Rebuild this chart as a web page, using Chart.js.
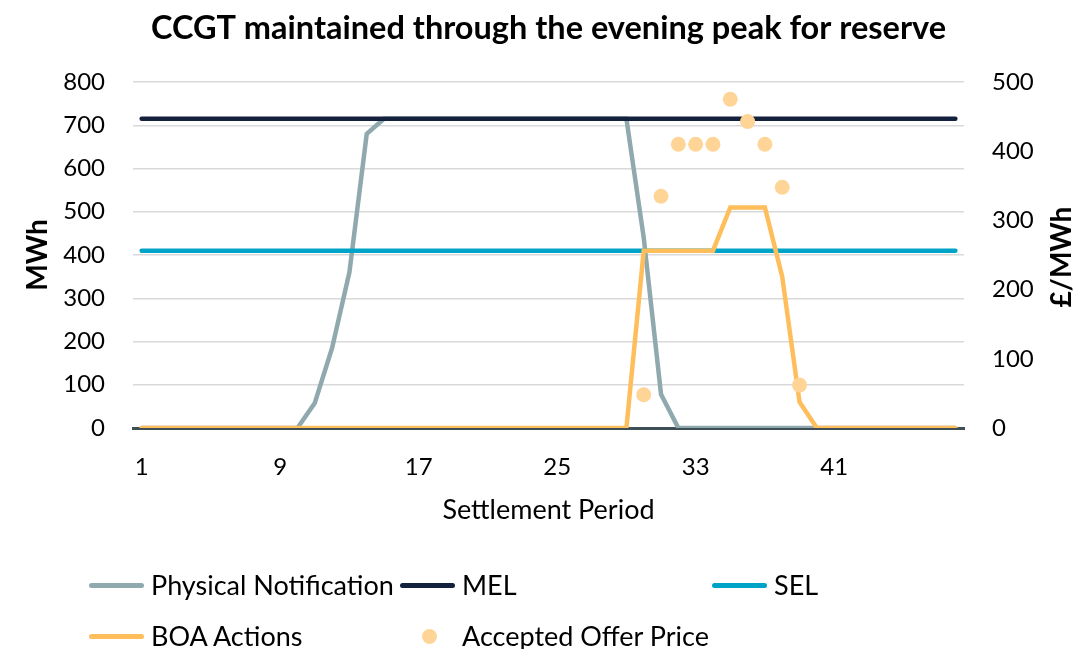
<!DOCTYPE html>
<html>
<head>
<meta charset="utf-8">
<script src="https://cdn.jsdelivr.net/npm/chart.js@4/dist/chart.umd.min.js"></script>
<style>
html,body{margin:0;padding:0;background:#fff;}
#wrap{position:relative;width:1076px;height:649px;overflow:hidden;}
canvas{display:block;}
.lg-item{position:absolute;height:30px;font-family:Lato,"Open Sans",sans-serif;font-size:27px;color:#000;white-space:nowrap;}
.lg-line{position:absolute;height:5px;border-radius:3px;}
.lg-dot{position:absolute;width:15px;height:15px;border-radius:50%;}
.lg-text{position:absolute;line-height:30px;top:0;}
</style>
</head>
<body>
<div id="wrap">
<canvas id="c" width="1076" height="649"></canvas>
<div id="legend"></div>
</div>
<script>
const titleText = "CCGT maintained through the evening peak for reserve";
const xTitle = "Settlement Period";
const yTitle = "MWh";
const y1Title = "£/MWh";
const periods = [1,2,3,4,5,6,7,8,9,10,11,12,13,14,15,16,17,18,19,20,21,22,23,24,25,26,27,28,29,30,31,32,33,34,35,36,37,38,39,40,41,42,43,44,45,46,47,48];
const physicalNotification = [0,0,0,0,0,0,0,0,0,0,58,185,360,680,715,715,715,715,715,715,715,715,715,715,715,715,715,715,715,440,78,0,0,0,0,0,0,0,0,0,0,0,0,0,0,0,0,0];
const mel = [715,715,715,715,715,715,715,715,715,715,715,715,715,715,715,715,715,715,715,715,715,715,715,715,715,715,715,715,715,715,715,715,715,715,715,715,715,715,715,715,715,715,715,715,715,715,715,715];
const sel = [410,410,410,410,410,410,410,410,410,410,410,410,410,410,410,410,410,410,410,410,410,410,410,410,410,410,410,410,410,410,410,410,410,410,410,410,410,410,410,410,410,410,410,410,410,410,410,410];
const boaActions = [0,0,0,0,0,0,0,0,0,0,0,0,0,0,0,0,0,0,0,0,0,0,0,0,0,0,0,0,0,410,410,410,410,410,510,510,510,350,60,0,0,0,0,0,0,0,0,0];
const acceptedOfferPrice = [null,null,null,null,null,null,null,null,null,null,null,null,null,null,null,null,null,null,null,null,null,null,null,null,null,null,null,null,null,48,335,410,410,410,475,443,410,348,62,null,null,null,null,null,null,null,null,null];
const leftTicks = [0,100,200,300,400,500,600,700,800];
const rightTicks = [0,100,200,300,400,500];

const FONT = 'Lato, "Open Sans", sans-serif';
const colors = {pn:'#8FA9AE', mel:'#14213D', sel:'#00A3C8', boa:'#FFBE5C', offer:'#FFD597'};
const tickFont = {family: FONT, size: 24, lineHeight: 1.2};
const axisTitleFont = {family: FONT, size: 28, weight: 'bold', lineHeight: 1.2};

const lineDs = (label, data, color, order) => ({
  label, data, borderColor: color, backgroundColor: color, borderWidth: 4.5,
  pointRadius: 0, borderCapStyle: 'round', borderJoinStyle: 'miter', yAxisID: 'y', order, tension: 0, fill: false
});

// draws the right-axis title reading bottom-to-top, as in the reference
const rightTitlePlugin = {
  id: 'rightTitle',
  afterDraw(chart) {
    const s = chart.scales.y1;
    const ctx = chart.ctx;
    ctx.save();
    ctx.font = 'bold ' + axisTitleFont.size + 'px ' + FONT;
    ctx.fillStyle = '#000';
    ctx.textAlign = 'center';
    ctx.textBaseline = 'middle';
    ctx.translate(s.right - 14, (s.top + s.bottom) / 2 + 2);
    ctx.rotate(-Math.PI / 2);
    ctx.fillText(y1Title, 0, 0);
    ctx.restore();
  }
};

const chart = new Chart(document.getElementById('c'), {
  type: 'line',
  data: {
    labels: periods,
    datasets: [
      lineDs('Physical Notification', physicalNotification, colors.pn, 5),
      lineDs('MEL', mel, colors.mel, 4),
      lineDs('SEL', sel, colors.sel, 3),
      lineDs('BOA Actions', boaActions, colors.boa, 2),
      {
        label: 'Accepted Offer Price', data: acceptedOfferPrice, showLine: false,
        pointRadius: 7.5, pointBackgroundColor: colors.offer, pointBorderWidth: 0,
        pointBorderColor: colors.offer, backgroundColor: colors.offer, borderColor: colors.offer,
        yAxisID: 'y1', order: 1
      }
    ]
  },
  plugins: [rightTitlePlugin],
  options: {
    responsive: false,
    animation: false,
    devicePixelRatio: 1,
    layout: {padding: 0},
    plugins: {
      legend: {display: false},
      tooltip: {enabled: false},
      title: {
        display: true, text: titleText, color: '#000', fullSize: false,
        font: {family: FONT, size: 32.5, weight: 'bold', lineHeight: 1.2},
        padding: {top: 9, bottom: 34}
      }
    },
    scales: {
      x: {
        type: 'category', offset: true,
        grid: {display: false, drawTicks: false},
        border: {display: true, color: '#3E5056', width: 3},
        ticks: {
          autoSkip: false, maxRotation: 0, minRotation: 0, padding: 25, color: '#000',
          font: tickFont,
          callback: (v, i) => (i % 8 === 0 ? String(periods[i]) : '')
        },
        title: {display: true, text: xTitle, color: '#000',
          font: {family: FONT, size: 27, lineHeight: 1.2}, padding: {top: 0, bottom: 123}},
        afterFit: s => { s.height = 221; }
      },
      y: {
        position: 'left', min: 0, max: 800,
        afterBuildTicks: s => { s.ticks = leftTicks.map(v => ({value: v})); },
        grid: {color: '#D9D9D9', lineWidth: 1.5, drawTicks: false},
        border: {display: false},
        ticks: {padding: 28, color: '#000', font: tickFont},
        title: {display: true, text: yTitle, color: '#000',
          font: axisTitleFont, padding: {top: 21, bottom: 0}},
        afterFit: s => { s.width = 133; }
      },
      y1: {
        position: 'right', min: 0, max: 500,
        afterBuildTicks: s => { s.ticks = rightTicks.map(v => ({value: v})); },
        grid: {display: false, drawTicks: false},
        border: {display: false},
        ticks: {padding: 28, color: '#000', font: tickFont},
        title: {display: false, text: y1Title},
        afterFit: s => { s.width = 112; }
      }
    }
  }
});

// HTML legend built from the chart's datasets
(function buildLegend() {
  const lg = document.getElementById('legend');
  const colLeft = [89, 400, 712];
  const rowCenter = [585, 636];
  chart.data.datasets.forEach((ds, i) => {
    const col = i % 3, row = Math.floor(i / 3);
    const item = document.createElement('div');
    item.className = 'lg-item';
    item.style.left = colLeft[col] + 'px';
    item.style.top = (rowCenter[row] - 15) + 'px';
    item.style.width = '300px';
    if (ds.showLine === false) {
      const d = document.createElement('div');
      d.className = 'lg-dot';
      d.style.background = ds.pointBackgroundColor;
      d.style.left = (29 - 7.5) + 'px';
      d.style.top = (15 - 7.5) + 'px';
      item.appendChild(d);
    } else {
      const l = document.createElement('div');
      l.className = 'lg-line';
      l.style.background = ds.borderColor;
      l.style.left = '0px';
      l.style.width = '55px';
      l.style.top = '13px';
      item.appendChild(l);
    }
    const t = document.createElement('span');
    t.className = 'lg-text';
    t.style.left = '62px';
    t.textContent = ds.label;
    item.appendChild(t);
    lg.appendChild(item);
  });
})();
</script>
</body>
</html>
